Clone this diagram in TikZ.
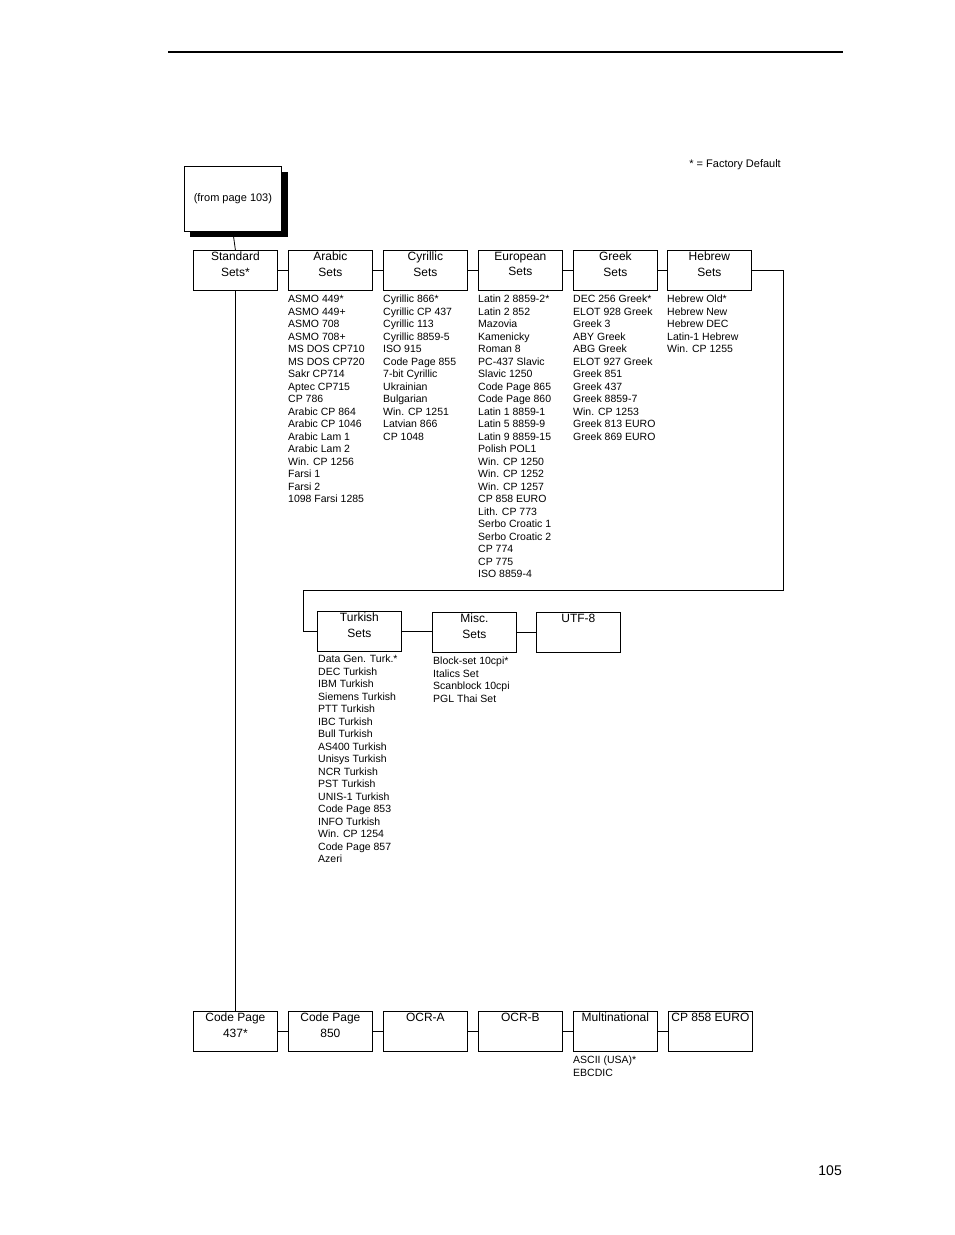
\documentclass[tikz,border=0pt]{standalone}
\usepackage{fontspec}
\setmainfont{Liberation Sans}
\begin{document}
\begin{tikzpicture}[x=1pt,y=-1pt,
  mbox/.style={draw,line width=0.8pt,minimum width=84pt,minimum height=40pt,anchor=north west,inner sep=0pt},
  mlbl/.style={anchor=north,align=center,inner sep=0pt,yshift=-2pt,font=\fontsize{12}{15.5}\selectfont},
  mlist/.style={anchor=north west,align=left,inner sep=0pt,font=\fontsize{10.5}{12.5}\selectfont},
  wire/.style={line width=0.8pt}]
\useasboundingbox (0,0) rectangle (954,1235);
\newcommand{\menubox}[4]{\node[mbox,label={[mlbl]north:{#4}}] (#1) at (#2,#3) {};}
% header rule and page number
\draw[line width=1.8pt] (168,52) -- (843,52);
\node[anchor=east,inner sep=0pt,font=\fontsize{14}{16}\selectfont] (pnum) at (842,1171) {105};
\node[anchor=east,inner sep=0pt,font=\fontsize{11}{13}\selectfont] (fdef) at (781,165) {* = Factory Default};
% entry box with shadow
\fill (190,172) rectangle (288,237);
\node[draw,fill=white,line width=0.8pt,minimum width=97pt,minimum height=65pt,anchor=north west,inner sep=0pt,font=\fontsize{11}{13}\selectfont] (from) at (184,166) {(from page 103)};
% top row
\menubox{std}{193}{250}{Standard\\Sets*}
\menubox{arab}{288}{250}{Arabic\\Sets}
\menubox{cyr}{383}{250}{Cyrillic\\Sets}
\menubox{euro}{478}{250}{European\\Sets}
\menubox{greek}{573}{250}{Greek\\Sets}
\menubox{hebr}{667}{250}{Hebrew\\Sets}
% second row
\menubox{turk}{317}{611}{Turkish\\Sets}
\menubox{misc}{432}{612}{Misc.\\Sets}
\menubox{utf}{536}{612}{UTF-8}
% bottom row
\menubox{cp437}{193}{1011}{Code Page\\437*}
\menubox{cp850}{288}{1011}{Code Page\\850}
\menubox{ocra}{383}{1011}{OCR-A}
\menubox{ocrb}{478}{1011}{OCR-B}
\menubox{multi}{573}{1011}{Multinational}
\menubox{cp858}{668}{1011}{CP 858 EURO}
% connectors
\draw[wire] (from.south) -- (std.north);
\draw[wire] (std.south) -- (cp437.north);
\foreach \a/\b in {std/arab,arab/cyr,cyr/euro,euro/greek,greek/hebr,turk/misc,misc/utf,cp437/cp850,cp850/ocra,ocra/ocrb,ocrb/multi,multi/cp858}
  \draw[wire] (\a.east) -- (\a.east -| \b.west);
\coordinate (wrapR) at (783,590);
\coordinate (wrapL) at (303,590);
\draw[wire] (hebr.east) -| (wrapR) -- (wrapL) |- (turk.west);
% lists
\node[mlist] (arablist) at (288,295) {ASMO 449*\\ASMO 449+\\ASMO 708\\ASMO 708+\\MS DOS CP710\\MS DOS CP720\\Sakr CP714\\Aptec CP715\\CP 786\\Arabic CP 864\\Arabic CP 1046\\Arabic Lam 1\\Arabic Lam 2\\Win. CP 1256\\Farsi 1\\Farsi 2\\1098 Farsi 1285};
\node[mlist] (cyrlist) at (383,295) {Cyrillic 866*\\Cyrillic CP 437\\Cyrillic 113\\Cyrillic 8859-5\\ISO 915\\Code Page 855\\7-bit Cyrillic\\Ukrainian\\Bulgarian\\Win. CP 1251\\Latvian 866\\CP 1048};
\node[mlist] (eurolist) at (478,295) {Latin 2 8859-2*\\Latin 2 852\\Mazovia\\Kamenicky\\Roman 8\\PC-437 Slavic\\Slavic 1250\\Code Page 865\\Code Page 860\\Latin 1 8859-1\\Latin 5 8859-9\\Latin 9 8859-15\\Polish POL1\\Win. CP 1250\\Win. CP 1252\\Win. CP 1257\\CP 858 EURO\\Lith. CP 773\\Serbo Croatic 1\\Serbo Croatic 2\\CP 774\\CP 775\\ISO 8859-4};
\node[mlist] (greeklist) at (573,295) {DEC 256 Greek*\\ELOT 928 Greek\\Greek 3\\ABY Greek\\ABG Greek\\ELOT 927 Greek\\Greek 851\\Greek 437\\Greek 8859-7\\Win. CP 1253\\Greek 813 EURO\\Greek 869 EURO};
\node[mlist] (hebrlist) at (667,295) {Hebrew Old*\\Hebrew New\\Hebrew DEC\\Latin-1 Hebrew\\Win. CP 1255};
\node[mlist] (turklist) at (318,655) {Data Gen. Turk.*\\DEC Turkish\\IBM Turkish\\Siemens Turkish\\PTT Turkish\\IBC Turkish\\Bull Turkish\\AS400 Turkish\\Unisys Turkish\\NCR Turkish\\PST Turkish\\UNIS-1 Turkish\\Code Page 853\\INFO Turkish\\Win. CP 1254\\Code Page 857\\Azeri};
\node[mlist] (misclist) at (433,657) {Block-set 10cpi*\\Italics Set\\Scanblock 10cpi\\PGL Thai Set};
\node[mlist] (multilist) at (573,1056) {ASCII (USA)*\\EBCDIC};
\end{tikzpicture}
\end{document}
